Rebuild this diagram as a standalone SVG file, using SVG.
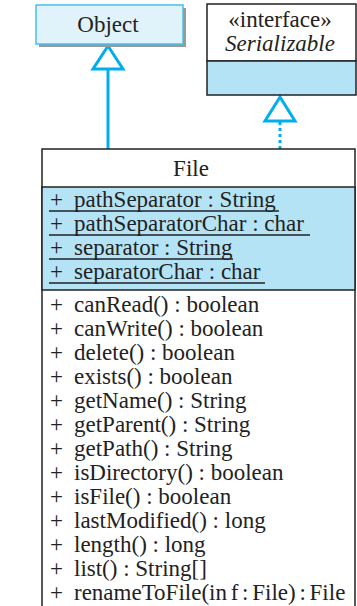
<svg xmlns="http://www.w3.org/2000/svg" width="357" height="606" viewBox="0 0 357 606">
<style>
text{font-family:"Liberation Serif","Times New Roman",serif;font-size:23px;fill:#222}
.c{text-anchor:middle}
.ul{stroke:#222;stroke-width:1.3}
.box{stroke:#222;stroke-width:1.5}
.arr{fill:#fff;stroke:#00aeef;stroke-width:3}
</style>
<rect width="357" height="606" fill="#fff"/>
<g id="connectors">
<line x1="108" y1="69" x2="108" y2="149" stroke="#00aeef" stroke-width="3"/>
<polygon class="arr" points="108,46 123,69 93,69"/>
<line x1="280" y1="122" x2="280" y2="149" stroke="#00aeef" stroke-width="3" stroke-dasharray="3,3"/>
<polygon class="arr" points="280,97 295,121 265,121"/>
</g>
<g id="Object">
<rect x="39" y="8" width="147" height="39" fill="#999"/>
<rect x="36" y="5" width="147" height="39" fill="#e0f3fb" stroke="#45c0ee" stroke-width="1.5"/>
<text x="108" y="32" class="c">Object</text>
</g>
<g id="Serializable">
<rect x="207" y="4" width="149" height="57" fill="#fff" class="box"/>
<rect x="207" y="61" width="149" height="34" fill="#b5e3f6" class="box"/>
<text x="280" y="27" class="c">«interface»</text>
<text x="280" y="50.5" class="c" font-style="italic">Serializable</text>
</g>
<g id="File">
<rect x="42" y="149" width="313" height="470" fill="#fff" class="box"/>
<rect x="42" y="187" width="313" height="103" fill="#b5e3f6" class="box"/>
<text x="191" y="176" class="c">File</text>
<text x="50" y="207">+<tspan x="74">pathSeparator : String</tspan></text>
<line class="ul" x1="49" y1="211" x2="279" y2="211"/>
<text x="50" y="231">+<tspan x="74">pathSeparatorChar : char</tspan></text>
<line class="ul" x1="49" y1="235" x2="310" y2="235"/>
<text x="50" y="255">+<tspan x="74">separator : String</tspan></text>
<line class="ul" x1="49" y1="259" x2="233" y2="259"/>
<text x="50" y="279">+<tspan x="74">separatorChar : char</tspan></text>
<line class="ul" x1="49" y1="283" x2="265" y2="283"/>
<text x="50" y="311.5">+<tspan x="74">canRead() : boolean</tspan></text>
<text x="50" y="335.5">+<tspan x="74">canWrite() : boolean</tspan></text>
<text x="50" y="359.5">+<tspan x="74">delete() : boolean</tspan></text>
<text x="50" y="383.5">+<tspan x="74">exists() : boolean</tspan></text>
<text x="50" y="407.5">+<tspan x="74">getName() : String</tspan></text>
<text x="50" y="431.5">+<tspan x="74">getParent() : String</tspan></text>
<text x="50" y="455.5">+<tspan x="74">getPath() : String</tspan></text>
<text x="50" y="479.5">+<tspan x="74">isDirectory() : boolean</tspan></text>
<text x="50" y="503.5">+<tspan x="74">isFile() : boolean</tspan></text>
<text x="50" y="527.5">+<tspan x="74">lastModified() : long</tspan></text>
<text x="50" y="551.5">+<tspan x="74">length() : long</tspan></text>
<text x="50" y="575.5">+<tspan x="74">list() : String[]</tspan></text>
<text x="50" y="599.5">+<tspan x="74" word-spacing="-2">renameToFile(in f : File) : File</tspan></text>
</g>
</svg>
